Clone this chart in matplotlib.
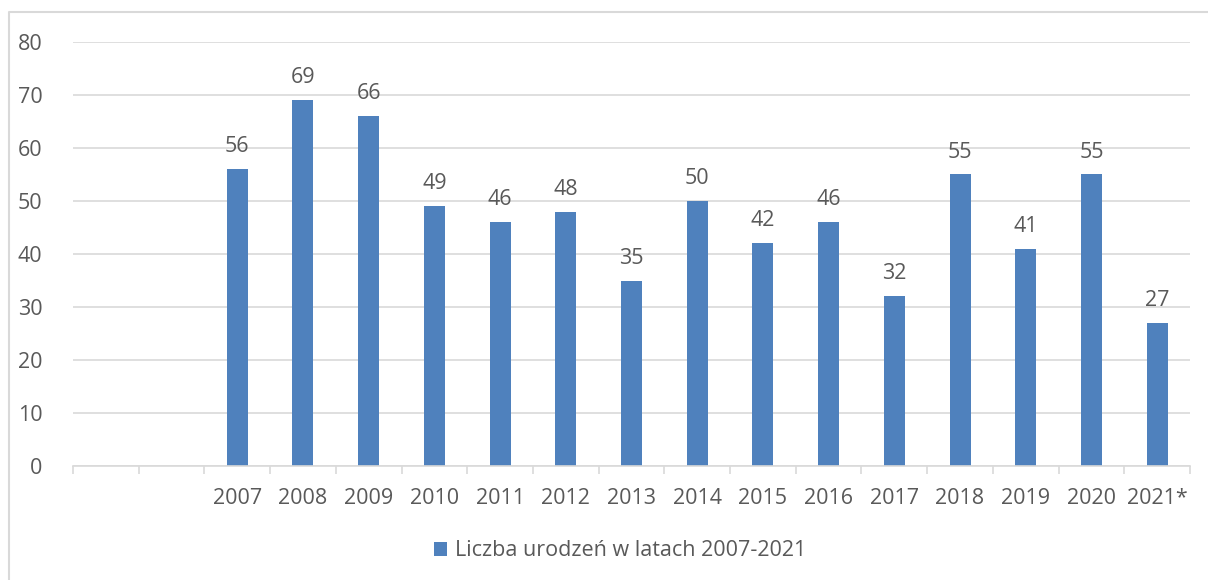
import matplotlib.pyplot as plt
from matplotlib.lines import Line2D

categories = ["", "", "2007", "2008", "2009", "2010", "2011", "2012", "2013",
              "2014", "2015", "2016", "2017", "2018", "2019", "2020", "2021*"]
values = [None, None, 56, 69, 66, 49, 46, 48, 35, 50, 42, 46, 32, 55, 41, 55, 27]
series_name = "Liczba urodzeń w latach 2007-2021"

plt.rcParams['font.family'] = ['Open Sans', 'DejaVu Sans']
TXT = '#595959'
BAR = '#4F81BD'
GRID = '#D9D9D9'
FS = 15.5

W, H = 1208, 580
fig = plt.figure(figsize=(W / 100, H / 100), dpi=100)
# outer chart border (only top and left edges visible in the crop)
fig.lines.append(Line2D([8.5 / W, 8.5 / W, 1.0], [0.0, 1 - 12 / H, 1 - 12 / H],
                        transform=fig.transFigure, color=GRID, linewidth=1.5))

left, right, top, bottom = 73, 1190, 42, 466
ax = fig.add_axes([left / W, 1 - bottom / H, (right - left) / W, (bottom - top) / H])

xs = list(range(len(categories)))
bx = [x for x, v in zip(xs, values) if v is not None]
bv = [v for v in values if v is not None]
bars = ax.bar(bx, bv, width=0.32, color=BAR, zorder=3, label=series_name)
for x, v in zip(bx, bv):
    ax.text(x, v + 3.2, str(v), ha='center', va='baseline', fontsize=FS, color=TXT)

ax.set_xlim(-0.5, len(categories) - 0.5)
ax.set_ylim(0, 80)
ax.set_yticks(range(0, 81, 10))
ax.set_xticks(xs)
ax.set_xticklabels(categories)
ax.set_xticks([x - 0.5 for x in xs] + [len(categories) - 0.5], minor=True)
ax.tick_params(axis='x', which='major', length=0, pad=16, labelsize=FS, labelcolor=TXT)
ax.tick_params(axis='x', which='minor', length=6, color=GRID, width=1.2)
ax.tick_params(axis='y', length=0, pad=22, labelsize=FS, labelcolor=TXT)
ax.grid(axis='y', color=GRID, linewidth=1.2, zorder=0)
for s in ['top', 'right', 'left']:
    ax.spines[s].set_visible(False)
ax.spines['bottom'].set_color(GRID)
ax.spines['bottom'].set_linewidth(1.2)
ax.spines['bottom'].set_zorder(4)

fig.legend(handles=[bars], labels=[series_name], loc='center',
           bbox_to_anchor=(620 / W, 1 - 551 / H), frameon=False, fontsize=FS,
           handlelength=0.6, handleheight=0.6, handletextpad=0.4, labelcolor=TXT)

fig.savefig('out.png', dpi=100)
